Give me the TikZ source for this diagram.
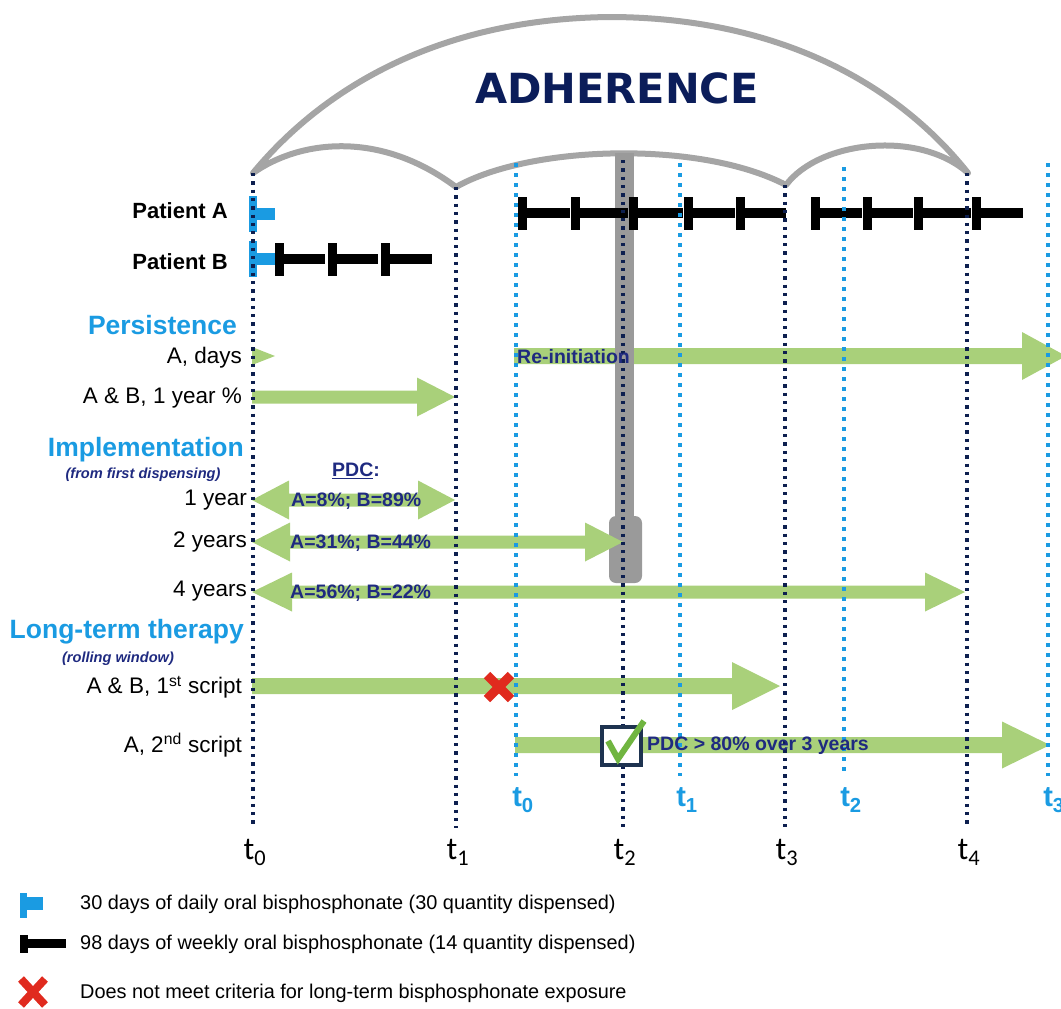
\documentclass[tikz,border=0pt]{standalone}
\usepackage{fontspec}
\setmainfont{Liberation Sans}
\newfontfamily\djv{DejaVu Sans}
\newfontfamily\carl{Carlito}
\definecolor{navy}{HTML}{0D1F4F}
\definecolor{lblue}{HTML}{1A9BE2}
\definecolor{agreen}{HTML}{A9D07A}
\definecolor{ugray}{HTML}{A5A5A5}
\definecolor{hgray}{HTML}{9A9A9A}
\definecolor{tnavy}{HTML}{1F2A80}
\definecolor{adnavy}{HTML}{0B1D5A}
\definecolor{xred}{HTML}{E02A1E}
\definecolor{cgreen}{HTML}{70B540}
\definecolor{boxnavy}{HTML}{1E3350}
\newcommand\fs[1]{\fontsize{#1}{#1}\selectfont}
% right block arrow: x1, xtip, y, shaft half, head half, head length
\newcommand\rarr[6]{\fill[agreen] (#1,{#3-#4}) -- ({#2-#6},{#3-#4}) -- ({#2-#6},{#3-#5}) -- (#2,#3) -- ({#2-#6},{#3+#5}) -- ({#2-#6},{#3+#4}) -- (#1,{#3+#4}) -- cycle;}
% double block arrow
\newcommand\darr[6]{\fill[agreen] (#1,#3) -- ({#1+#6},{#3-#5}) -- ({#1+#6},{#3-#4}) -- ({#2-#6},{#3-#4}) -- ({#2-#6},{#3-#5}) -- (#2,#3) -- ({#2-#6},{#3+#5}) -- ({#2-#6},{#3+#4}) -- ({#1+#6},{#3+#4}) -- ({#1+#6},{#3+#5}) -- cycle;}
% weekly dispensing: x of bar, end of horizontal, y centre
\newcommand\wk[3]{\fill[black] (#1,{#3-16.5}) rectangle ({#1+9},{#3+16.5}); \fill[black] ({#1+9},{#3-5}) rectangle (#2,{#3+5});}
% daily dispensing
\newcommand\dy[2]{\fill[lblue] ({#1-4},{#2-18}) rectangle ({#1+4},{#2+18}); \fill[lblue] ({#1+4},{#2-6}) rectangle ({#1+22},{#2+6});}
\newcommand\redx[3]{\draw[xred, line width=#3, line cap=butt] ({#1-12},{#2-12}) -- ({#1+12},{#2+12}) ({#1-12},{#2+12}) -- ({#1+12},{#2-12});}
\tikzset{
  dkdot/.style={navy, line width=3.3pt, dash pattern=on 3.3pt off 5pt},
  ltdot/.style={lblue, line width=4pt, dash pattern=on 4pt off 6pt},
  lab/.style={anchor=east, inner sep=0pt, font=\fs{22.5}},
  sect/.style={anchor=east, inner sep=0pt, font=\bfseries\fs{26.5}, text=lblue},
  sub/.style={inner sep=0pt, font=\bfseries\itshape\fs{14.6}, text=tnavy},
  val/.style={anchor=west, inner sep=0pt, font=\bfseries\fs{19.5}, text=tnavy},
  tlab/.style={inner sep=0pt, font=\carl\fs{32}, text=black},
  blab/.style={inner sep=0pt, font=\bfseries\fs{29}, text=lblue},
  leg/.style={anchor=west, inner sep=0pt, font=\fs{19.9}},
}
\begin{document}
\begin{tikzpicture}[x=1pt,y=-1pt]
\useasboundingbox (0,0) rectangle (1061,1009);
% umbrella canopy
\filldraw[fill=white, draw=ugray, line width=6pt, line join=round]
  (253,173) .. controls (330,80) and (450,18) .. (612,17)
  .. controls (774,18) and (894,80) .. (968,173)
  .. controls (920,130) and (820,140) .. (786,185)
  .. controls (700,140) and (530,145) .. (456,187)
  .. controls (380,130) and (300,140) .. (253,173) -- cycle;
\node[inner sep=0pt, font=\djv\bfseries\fs{41.5}, text=adnavy] (adh) at (617,88) {ADHERENCE};

% arrows below the handle
\rarr{514}{1066}{356}{8}{24}{44}
% handle
\fill[hgray] (615,153) rectangle (634,525);
\fill[hgray, rounded corners=7pt] (609,516) rectangle (642,583);

% Patient rows
\node[anchor=east, inner sep=0pt, font=\bfseries\fs{22}] (pa) at (228,211) {Patient A};
\node[anchor=east, inner sep=0pt, font=\bfseries\fs{22}] (pb) at (228,262) {Patient B};
\dy{253}{214}
\dy{253}{259}
\wk{275}{325}{259}
\wk{328}{378}{259}
\wk{381}{432}{259}
\wk{518}{570}{213}
\wk{571}{628}{213}
\wk{629}{683}{213}
\wk{684}{735}{213}
\wk{736}{786}{213}
\wk{811}{862}{213}
\wk{863}{913}{213}
\wk{914}{971}{213}
\wk{972}{1023}{213}

% Persistence
\node[sect] (pers) at (237,325) {Persistence};
\node[lab] (adays) at (242,358) {A, days};
\fill[agreen] (252,347) -- (275,356) -- (252,365) -- cycle;
\node[lab] (ab1) at (242,398) {A \& B, 1 year \%};
\rarr{252}{455}{397}{6.5}{19.5}{38}

% Implementation
\node[sect] (impl) at (244,450) {Implementation};
\node[sub] (ffd) at (143,475) {(from first dispensing)};
\node[inner sep=0pt, font=\bfseries\fs{19.5}, text=tnavy] (pdc) at (356,471) {\underline{PDC}:};
\node[lab] (y1) at (247,500) {1 year};
\node[lab] (y2) at (247,542) {2 years};
\node[lab] (y4) at (247,591) {4 years};
\darr{252}{455}{500}{6.5}{19.5}{37}
\darr{252}{623}{542}{6.5}{19.5}{38}
\darr{252}{965}{592}{6.5}{19.5}{40}
\node[val] (v1) at (291,501) {A=8\%; B=89\%};
\node[val] (v2) at (290,543) {A=31\%; B=44\%};
\node[val] (v4) at (290,593) {A=56\%; B=22\%};

% Long-term therapy
\node[sect] (ltt) at (244,632) {Long-term therapy};
\node[sub] (rw) at (118,659) {(rolling window)};
\node[lab] (s1) at (242,687) {A \& B, 1\textsuperscript{st} script};
\node[lab] (s2) at (242,745) {A, 2\textsuperscript{nd} script};
\rarr{252}{780}{686}{8}{24}{48}
\rarr{515}{1050}{745}{8}{23.5}{48}

% dotted time lines
\draw[dkdot] (253,173) -- (253,828);
\draw[dkdot] (456,187) -- (456,828);
\draw[dkdot] (623,160) -- (623,828);
\draw[dkdot] (785,185) -- (785,828);
\draw[dkdot] (967,173) -- (967,828);
\draw[ltdot] (516,163) -- (516,776);
\draw[ltdot] (680,163) -- (680,776);
\draw[ltdot] (844,167) -- (844,776);
\draw[ltdot] (1048,163) -- (1048,776);

% labels on top of lines
\node[anchor=west, inner sep=0pt, font=\bfseries\fs{19.5}, text=tnavy] (reinit) at (517,357) {Re-initiation};
\redx{499}{687}{9pt}
\fill[white] (602,727) rectangle (641,765);
\draw[boxnavy, line width=3.5pt] (602,727) rectangle (641,765);
\draw[cgreen, line width=6pt, line join=miter] (608,741) -- (618,759) -- (644,721);
\node[val] (pdc80) at (647,746) {PDC > 80\% over 3 years};

% time labels
\node[tlab] (T0) at (255,852) {t\textsubscript{0}};
\node[tlab] (T1) at (458,852) {t\textsubscript{1}};
\node[tlab] (T2) at (625,852) {t\textsubscript{2}};
\node[tlab] (T3) at (787,852) {t\textsubscript{3}};
\node[tlab] (T4) at (969,852) {t\textsubscript{4}};
\node[blab] (b0) at (523,800) {t\textsubscript{0}};
\node[blab] (b1) at (687,800) {t\textsubscript{1}};
\node[blab] (b2) at (851,800) {t\textsubscript{2}};
\node[blab] (b3) at (1054,800) {t\textsubscript{3}};

% legend
\fill[lblue] (20,893) rectangle (27,918);
\fill[lblue] (27,897) rectangle (43,910);
\node[leg] (l1) at (80,904) {30 days of daily oral bisphosphonate (30 quantity dispensed)};
\fill[black] (20,935) rectangle (28,953);
\fill[black] (28,939) rectangle (66,948);
\node[leg] (l2) at (80,944) {98 days of weekly oral bisphosphonate (14 quantity dispensed)};
\draw[xred, line width=8pt] (21,979) -- (45,1005) (21,1005) -- (45,979);
\node[leg] (l3) at (80,993) {Does not meet criteria for long-term bisphosphonate exposure};
\end{tikzpicture}
\end{document}
